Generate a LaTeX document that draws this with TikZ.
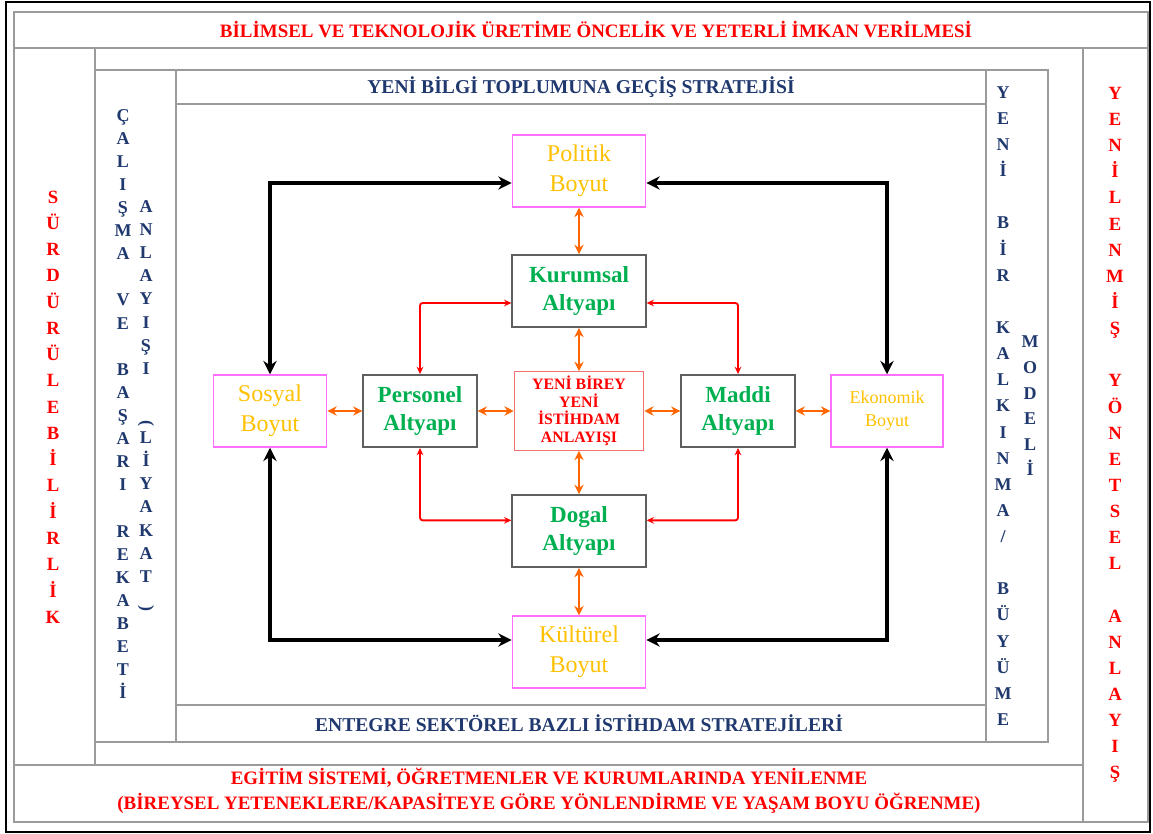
\documentclass[tikz,border=0pt]{standalone}
\usepackage{fontspec}
\setmainfont{Liberation Serif}
\usetikzlibrary{arrows.meta, calc, positioning}
\definecolor{titlered}{RGB}{255,0,0}
\definecolor{navyblue}{RGB}{31,56,110}
\definecolor{boyutpink}{RGB}{255,110,255}
\definecolor{boyutgold}{RGB}{255,192,0}
\definecolor{altyapigreen}{RGB}{0,176,80}
\definecolor{framegray}{RGB}{155,155,155}
\definecolor{boxgray}{RGB}{95,95,95}
\definecolor{niceorange}{RGB}{255,102,0}
\definecolor{bireyred}{RGB}{240,115,115}

\tikzset{
  gridline/.style={framegray, line width=1.2pt},
  boyut/.style={draw=boyutpink, line width=1.1pt, minimum height=54pt, text=boyutgold, align=center, font=\fontsize{18}{22.5}\selectfont},
  altyapi/.style={draw=boxgray, line width=1.4pt, minimum height=54pt, text=altyapigreen, align=center, font=\bfseries\fontsize{17.3}{21}\selectfont},
  redtitle/.style={text=titlered, font=\bfseries\fontsize{14.2}{18.75}\selectfont, align=center},
  bluetitle/.style={text=navyblue, font=\bfseries\fontsize{14.7}{16}\selectfont, align=center},
  blackarrow/.style={line width=2.6pt, {Stealth[length=10pt,width=10pt]}-{Stealth[length=10pt,width=10pt]}},
  orangearrow/.style={niceorange, line width=2pt, {Stealth[length=7pt,width=7pt]}-{Stealth[length=7pt,width=7pt]}},
  redarrow/.style={titlered, line width=1.4pt, rounded corners=2pt, {Stealth[length=5.5pt,width=5pt]}-{Stealth[length=5.5pt,width=5pt]}}
}

\begin{document}
\begin{tikzpicture}[x=0.75pt, y=-0.75pt]
	\useasboundingbox (0,0) rectangle (1153,834);
	% outer frame and table lines
	\draw[line width=1.6pt] (6,2) rectangle (1150,832);
	\draw[gridline] (14,12) rectangle (1148,822);
	\draw[gridline] (14,48) -- (1148,48);
	\draw[gridline] (14,765) -- (1083,765);
	\draw[gridline] (95,48) -- (95,765);
	\draw[gridline] (1083,48) -- (1083,822);
	\draw[gridline] (95,70) -- (1048,70) -- (1048,742) -- (95,742);
	\draw[gridline] (176,70) -- (176,742);
	\draw[gridline] (986,70) -- (986,742);
	\draw[gridline] (176,104) -- (986,104);
	\draw[gridline] (176,705) -- (986,705);

	% horizontal titles
	\node[redtitle] (banner) at (596,30) {BİLİMSEL VE TEKNOLOJİK ÜRETİME ÖNCELİK VE YETERLİ İMKAN VERİLMESİ};
	\node[bluetitle] (strateji) at (581,87) {YENİ BİLGİ TOPLUMUNA GEÇİŞ STRATEJİSİ};
	\node[bluetitle] (entegre) at (579,723) {ENTEGRE SEKTÖREL BAZLI İSTİHDAM STRATEJİLERİ};
	\node[redtitle] (egitim) at (549,791) {EGİTİM SİSTEMİ, ÖĞRETMENLER VE KURUMLARINDA YENİLENME\\(BİREYSEL YETENEKLERE/KAPASİTEYE GÖRE YÖNLENDİRME VE YAŞAM BOYU ÖĞRENME)};

	% vertical titles, one letter a line
	\node[text=titlered, font=\bfseries\fontsize{14}{19.7}\selectfont, align=center] (surdurulebilirlik) at (53,407)
		{S\\Ü\\R\\D\\Ü\\R\\Ü\\L\\E\\B\\İ\\L\\İ\\R\\L\\İ\\K};
	\node[text=navyblue, font=\bfseries\fontsize{13.5}{17.33}\selectfont, align=center] (calisma) at (123,404)
		{Ç\\A\\L\\I\\Ş\\M\\A\\\mbox{}\\V\\E\\\mbox{}\\B\\A\\Ş\\A\\R\\I\\\mbox{}\\R\\E\\K\\A\\B\\E\\T\\İ};
	\node[text=navyblue, font=\bfseries\fontsize{13.5}{17.33}\selectfont, align=center] (anlayisi) at (146,406)
		{A\\N\\L\\A\\Y\\I\\Ş\\I\\\mbox{}\\\rotatebox{-90}{(}\\L\\İ\\Y\\A\\K\\A\\T\\\rotatebox{-90}{)}};
	\node[text=navyblue, font=\bfseries\fontsize{13.5}{19.6}\selectfont, align=center] (kalkinma) at (1003,406)
		{Y\\E\\N\\İ\\\mbox{}\\B\\İ\\R\\\mbox{}\\K\\A\\L\\K\\I\\N\\M\\A\\/\\\mbox{}\\B\\Ü\\Y\\Ü\\M\\E};
	\node[text=navyblue, font=\bfseries\fontsize{13.5}{19.2}\selectfont, align=center] (modeli) at (1030,406)
		{M\\O\\D\\E\\L\\İ};
	\node[text=titlered, font=\bfseries\fontsize{14}{19.6}\selectfont, align=center] (yonetsel) at (1115,435)
		{Y\\E\\N\\İ\\L\\E\\N\\M\\İ\\Ş\\\mbox{}\\Y\\Ö\\N\\E\\T\\S\\E\\L\\\mbox{}\\A\\N\\L\\A\\Y\\I\\Ş};

	% boyut and altyapi boxes
	\node[boyut, minimum width=100pt] (politik) at (579,171) {Politik\\Boyut};
	\node[boyut, minimum width=100pt] (kulturel) at (579,652) {Kültürel\\Boyut};
	\node[boyut, minimum width=85pt] (sosyal) at (270,411) {Sosyal\\Boyut};
	\node[boyut, minimum width=84pt, font=\fontsize{13.5}{17}\selectfont] (ekonomik) at (887,411) {Ekonomik\\Boyut};
	\node[altyapi, minimum width=100pt] (kurumsal) at (579,291) {Kurumsal\\Altyapı};
	\node[altyapi, minimum width=100pt] (dogal) at (579,531) {Dogal\\Altyapı};
	\node[altyapi, minimum width=85pt] (personel) at (420,411) {Personel\\Altyapı};
	\node[altyapi, minimum width=85pt] (maddi) at (738,411) {Maddi\\Altyapı};
	\node[draw=bireyred, line width=0.9pt, minimum width=97pt, minimum height=54pt, text=titlered, align=center,
		font=\bfseries\fontsize{11.9}{13.2}\selectfont] (birey) at (579,411) {YENİ BİREY\\YENİ\\İSTİHDAM\\ANLAYIŞI};

	% black connectors between the boyut boxes
	\draw[blackarrow] (sosyal.north) |- ([yshift=-9pt]politik.west);
	\draw[blackarrow] (ekonomik.north) |- ([yshift=-9pt]politik.east);
	\draw[blackarrow] (sosyal.south) |- ([yshift=9pt]kulturel.west);
	\draw[blackarrow] (ekonomik.south) |- ([yshift=9pt]kulturel.east);

	% orange connectors
	\draw[orangearrow] (politik) -- (kurumsal);
	\draw[orangearrow] (kurumsal) -- (birey);
	\draw[orangearrow] (birey) -- (dogal);
	\draw[orangearrow] (dogal) -- (kulturel);
	\draw[orangearrow] (sosyal) -- (personel);
	\draw[orangearrow] (personel) -- (birey);
	\draw[orangearrow] (birey) -- (maddi);
	\draw[orangearrow] (maddi) -- (ekonomik);

	% red connectors
	\draw[redarrow] (personel.north) |- ([yshift=-9pt]kurumsal.west);
	\draw[redarrow] (maddi.north) |- ([yshift=-9pt]kurumsal.east);
	\draw[redarrow] (personel.south) |- ([yshift=8pt]dogal.west);
	\draw[redarrow] (maddi.south) |- ([yshift=8pt]dogal.east);
\end{tikzpicture}
\end{document}
